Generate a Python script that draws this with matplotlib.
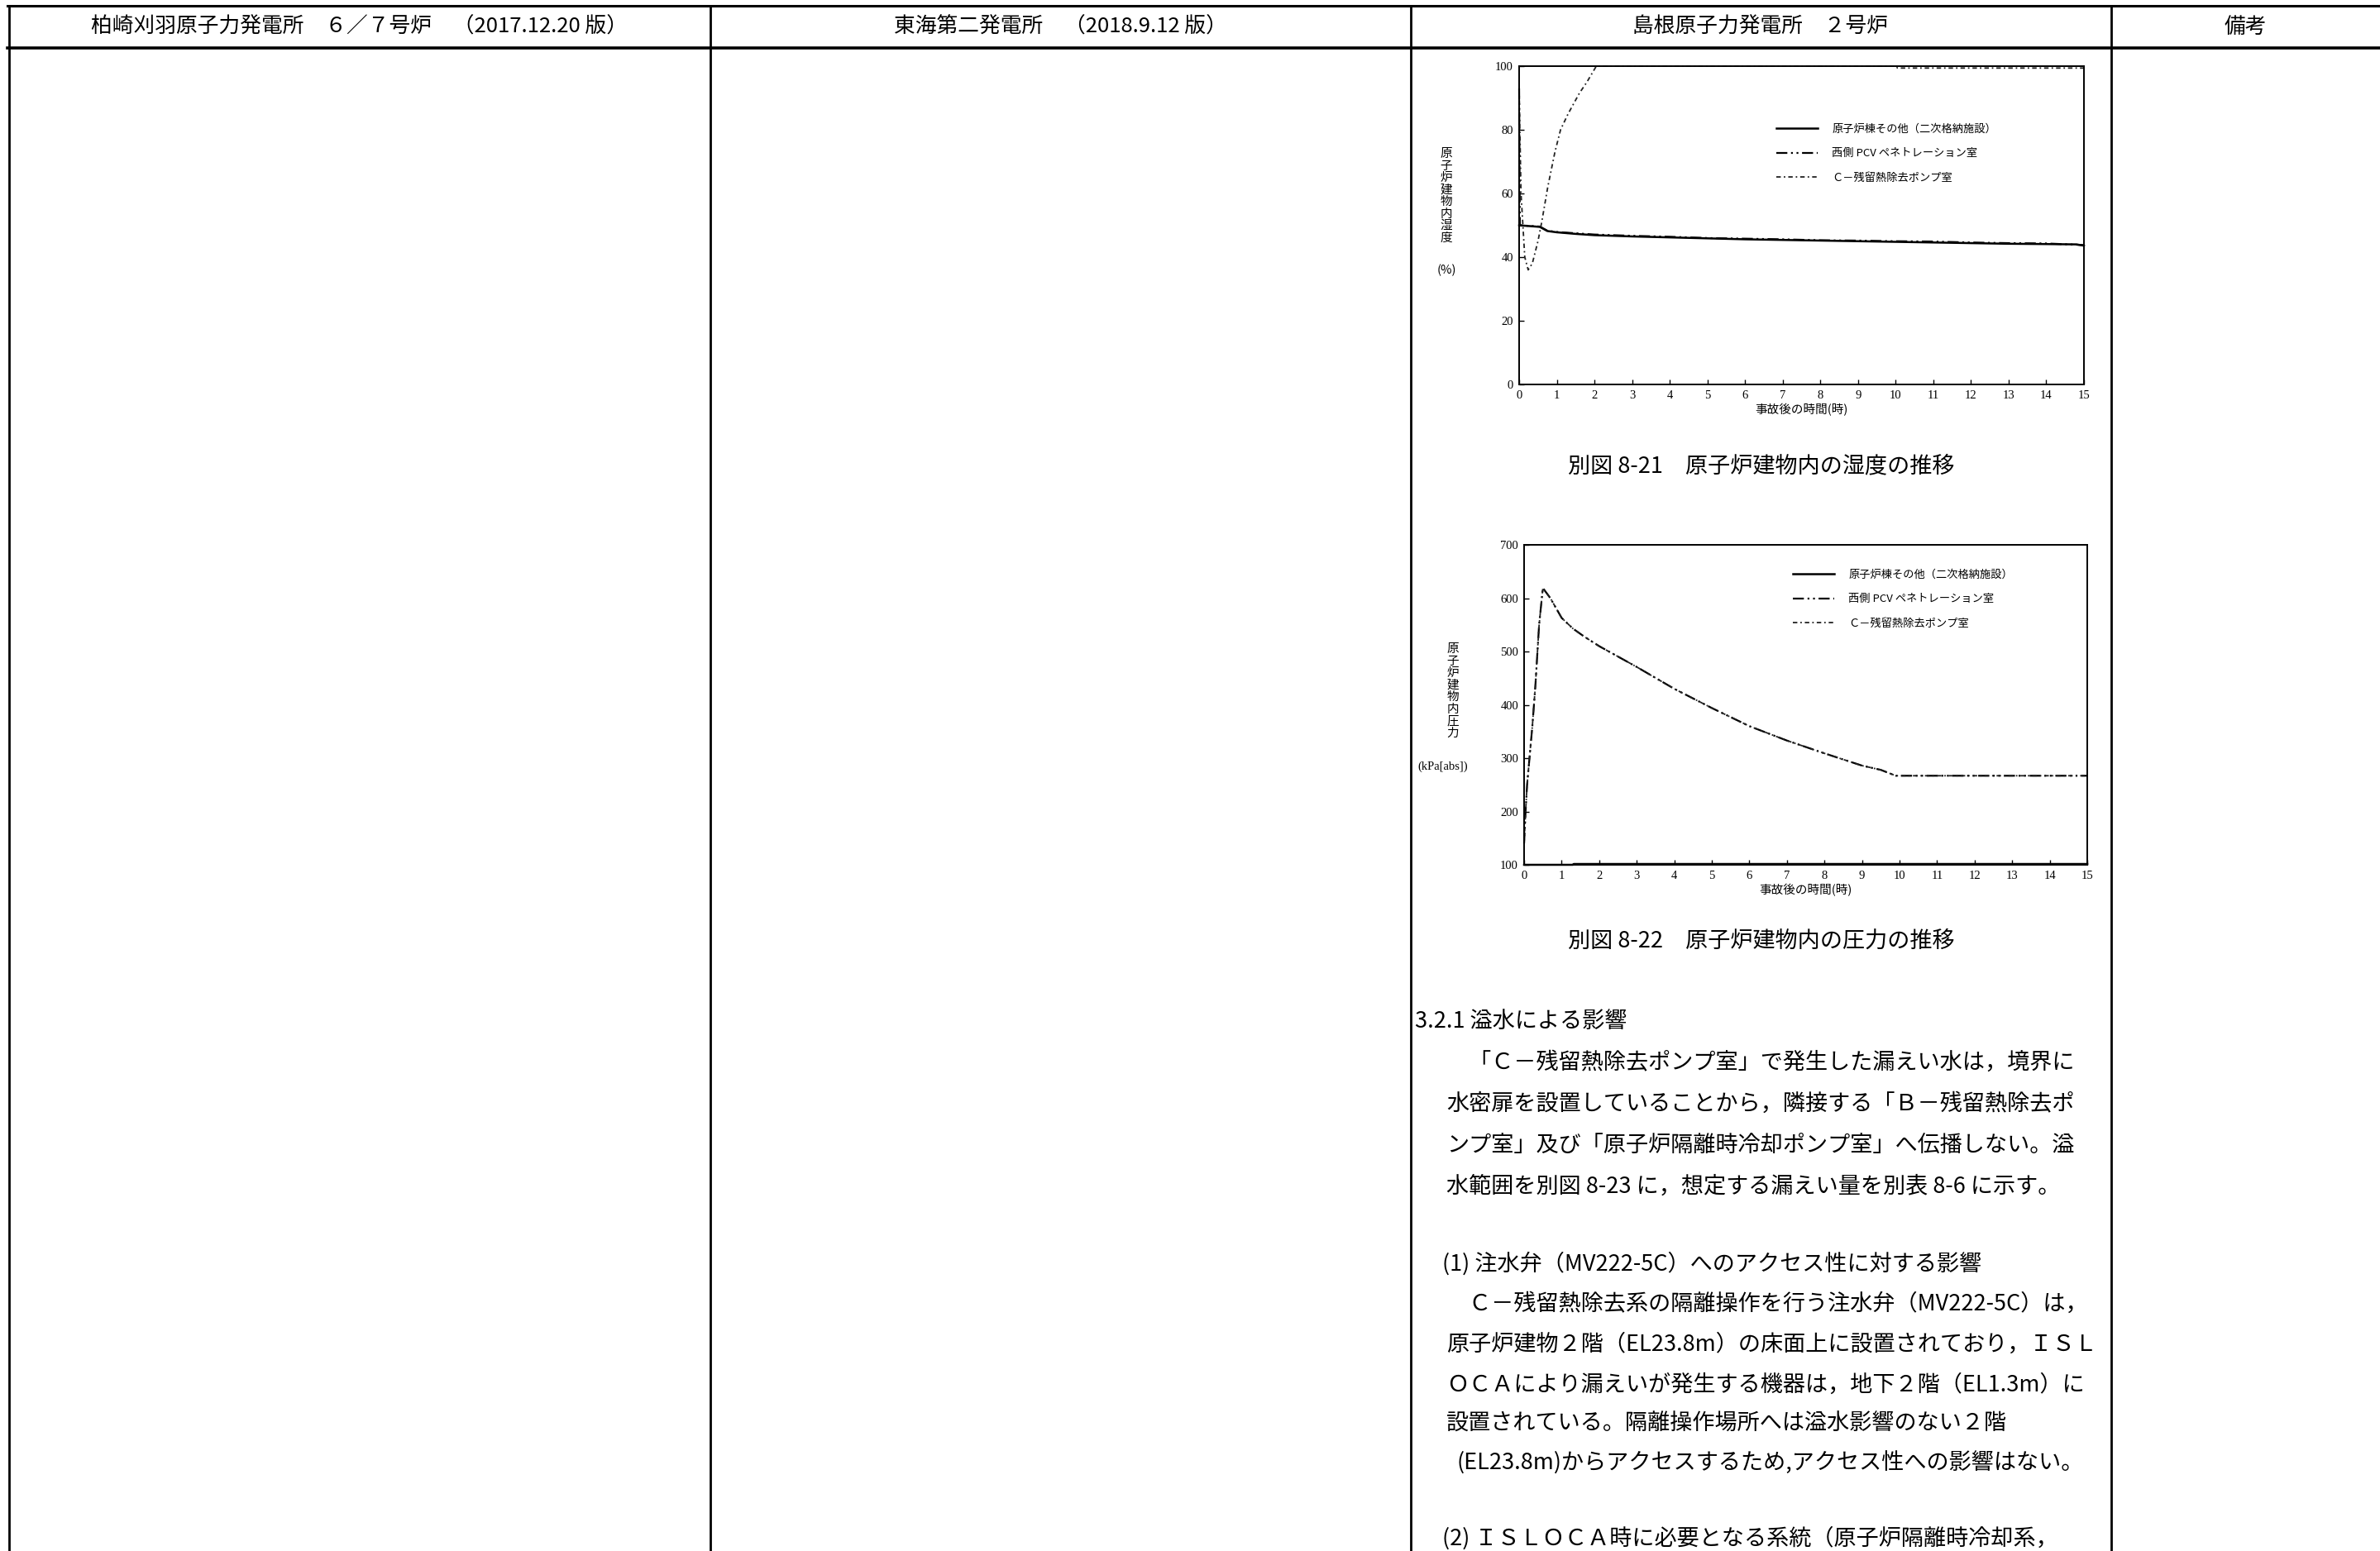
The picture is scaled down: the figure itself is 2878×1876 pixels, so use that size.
import matplotlib
matplotlib.use("Agg")
import matplotlib.pyplot as plt
import numpy as np

plt.rcParams['font.family'] = ['Noto Sans CJK JP', 'DejaVu Sans']

W, H = 2878, 1876

# 表のヘッダー
headers = ['柏崎刈羽原子力発電所　６／７号炉　（2017.12.20 版）',
           '東海第二発電所　（2018.9.12 版）',
           '島根原子力発電所　２号炉',
           '備考']

legend_labels = ['原子炉棟その他（二次格納施設）',
                 '西側 PCV ペネトレーション室',
                 'Ｃ－残留熱除去ポンプ室']

hours = list(range(16))

# 別図 8-21 湿度 (%)
t_hum_bldg = [0, 0.55, 0.75, 1.0, 1.5, 2, 3, 4, 5, 6, 7, 8, 9, 10, 11, 12, 13, 14, 14.8, 15]
hum_bldg = [50, 49.5, 48.2, 47.8, 47.3, 46.9, 46.5, 46.2, 45.9, 45.6, 45.4, 45.2, 45.0, 44.8,
            44.6, 44.4, 44.2, 44.1, 44.0, 43.6]
t_hum_pcv = [0, 0.02, 0.55, 0.75, 1.0, 1.5, 2, 3, 4, 5, 6, 7, 8, 9, 10, 11, 12, 13, 14, 15]
hum_pcv = [93, 50, 49.6, 48.3, 47.9, 47.5, 47.1, 46.7, 46.4, 46.0, 45.8, 45.6, 45.3, 45.2,
           45.0, 44.9, 44.6, 44.4, 44.3, 43.8]
t_hum_rhr = [0, 0.05, 0.15, 0.24, 0.35, 0.5, 0.6, 0.76, 0.95, 1.1, 1.3, 1.6, 1.8, 2.05, 10.0, 10.05, 15]
hum_rhr = [93, 60, 40, 36, 38, 45, 51, 62, 73, 80, 85, 91.5, 95, 100, 100, 99.4, 99.4]

# 別図 8-22 圧力 (kPa[abs])
t_prs_bldg = [0, 1.3, 1.32, 15]
prs_bldg = [100, 100, 101.5, 101.5]
t_prs_rhr = [0, 0.04, 0.08, 0.22, 0.3, 0.4, 0.5, 0.7, 1.0, 1.3, 1.6, 2, 3, 4, 5, 6, 7, 8, 9, 9.5, 9.9, 15]
prs_rhr = [140, 200, 250, 360, 435, 550, 619, 600, 563, 543, 528, 510, 471, 430, 394, 360, 333,
           309, 286, 278, 267, 267]
t_prs_pcv = t_prs_rhr
prs_pcv = prs_rhr

body_lines = [
    '3.2.1 溢水による影響',
    '　「Ｃ－残留熱除去ポンプ室」で発生した漏えい水は，境界に',
    '水密扉を設置していることから，隣接する「Ｂ－残留熱除去ポ',
    'ンプ室」及び「原子炉隔離時冷却ポンプ室」へ伝播しない。溢',
    '水範囲を別図 8-23 に，想定する漏えい量を別表 8-6 に示す。',
    '(1) 注水弁（MV222-5C）へのアクセス性に対する影響',
    '　Ｃ－残留熱除去系の隔離操作を行う注水弁（MV222-5C）は，',
    '原子炉建物２階（EL23.8m）の床面上に設置されており，ＩＳＬ',
    'ＯＣＡにより漏えいが発生する機器は，地下２階（EL1.3m）に',
    '設置されている。隔離操作場所へは溢水影響のない２階',
    '(EL23.8m)からアクセスするため,アクセス性への影響はない。',
    '(2) ＩＳＬＯＣＡ時に必要となる系統（原子炉隔離時冷却系，',
]
body_x = [1711, 1749, 1749, 1749, 1749, 1744, 1749, 1749, 1749, 1749, 1762, 1744]
body_y = [1235, 1285, 1335, 1385, 1435, 1528, 1577, 1626, 1675, 1722, 1770, 1860]

fig = plt.figure(figsize=(W / 100, H / 100), dpi=100)

# 背景（表の罫線と文字）はピクセル座標で
bg = fig.add_axes([0, 0, 1, 1])
bg.set_xlim(0, W)
bg.set_ylim(H, 0)
bg.axis('off')

col_x = [11, 859, 1706, 2553]
bg.plot([9, W], [7, 7], color='black', lw=2.2)
bg.plot([9, W], [58, 58], color='black', lw=2.6)
for x in col_x:
    bg.plot([x, x], [7, H], color='black', lw=2.0)

header_cx = [435, 1282, 2129, 2715]
for cx, txt in zip(header_cx, headers):
    bg.text(cx, 33, txt, ha='center', va='center', fontsize=18.5)

for x, y, txt in zip(body_x, body_y, body_lines):
    bg.text(x, y, txt, ha='left', va='center', fontsize=19.5)


def px_axes(left, right, top, bottom):
    return fig.add_axes([left / W, 1 - bottom / H, (right - left) / W, (bottom - top) / H])


def style(ax, ylim, yticks):
    ax.set_xlim(0, 15)
    ax.set_ylim(*ylim)
    ax.set_xticks(hours)
    ax.set_yticks(yticks)
    ax.tick_params(direction='in', length=4, width=1, labelsize=10.5, pad=5)
    plt.setp(ax.get_xticklabels() + ax.get_yticklabels(), fontfamily='Liberation Serif')
    for s in ax.spines.values():
        s.set_linewidth(1.4)
    ax.set_xlabel('事故後の時間(時)', fontsize=10.5, labelpad=2)


def draw_lines(ax, series):
    styles = [dict(color='black', lw=1.8, ls='-'),
              dict(color='black', lw=1.6, ls=(0, (6, 2, 1, 2, 1, 2))),
              dict(color='#222222', lw=1.3, ls=(0, (3, 2, 1, 2)))]
    for (t, v), st, lab in zip(series, styles, legend_labels):
        ax.plot(t, v, label=lab, clip_on=False, **st)


leg_kw = dict(bbox_transform=fig.transFigure, frameon=False, fontsize=9.5, handlelength=3.8,
              handletextpad=1.3, labelspacing=1.25, borderpad=0, borderaxespad=0)

# 別図 8-21
ax1 = px_axes(1837, 2520, 80, 465)
draw_lines(ax1, [(t_hum_bldg, hum_bldg), (t_hum_pcv, hum_pcv), (t_hum_rhr, hum_rhr)])
style(ax1, (0, 100), [0, 20, 40, 60, 80, 100])
ax1.legend(loc='upper left', bbox_to_anchor=(2148 / W, 1 - 150 / H), **leg_kw)
bg.text(1749, 237, '\n'.join('原子炉建物内湿度'), ha='center', va='center', fontsize=10.5, linespacing=1.05)
bg.text(1749, 327, '(%)', ha='center', va='center', fontsize=10.5)
bg.text(2130, 564, '別図 8-21　原子炉建物内の湿度の推移', ha='center', va='center', fontsize=19.5)

# 別図 8-22
ax2 = px_axes(1843, 2524, 659, 1046)
draw_lines(ax2, [(t_prs_bldg, prs_bldg), (t_prs_pcv, prs_pcv), (t_prs_rhr, prs_rhr)])
style(ax2, (100, 700), [100, 200, 300, 400, 500, 600, 700])
ax2.legend(loc='upper left', bbox_to_anchor=(2168 / W, 1 - 689 / H), **leg_kw)
bg.text(1757, 836, '\n'.join('原子炉建物内圧力'), ha='center', va='center', fontsize=10.5, linespacing=1.05)
bg.text(1745, 927, '(kPa[abs])', ha='center', va='center', fontsize=10.5, fontfamily='Liberation Serif')
bg.text(2130, 1138, '別図 8-22　原子炉建物内の圧力の推移', ha='center', va='center', fontsize=19.5)

fig.savefig('out.png', dpi=100)
